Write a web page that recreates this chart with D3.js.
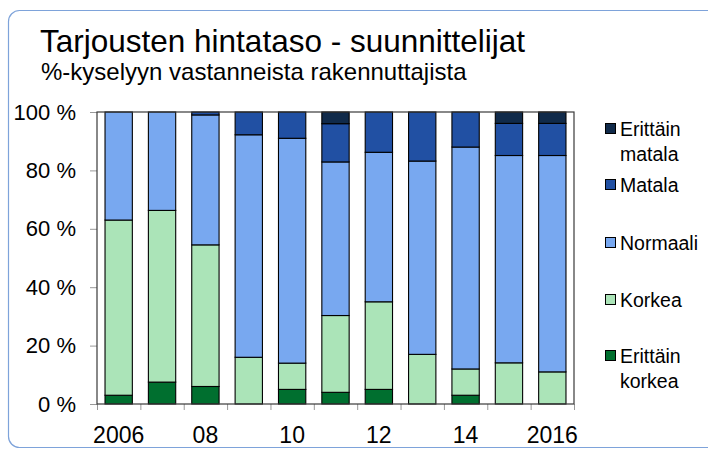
<!DOCTYPE html>
<html>
<head>
<meta charset="utf-8">
<script src="https://cdn.jsdelivr.net/npm/d3@7"></script>
<style>
  html, body { margin: 0; padding: 0; background: #fff; }
  svg { display: block; font-family: "Liberation Sans", Arial, sans-serif; }
</style>
</head>
<body>
<svg id="chart" width="708" height="449"></svg>
<script>
const years = ["2006","2007","2008","2009","2010","2011","2012","2013","2014","2015","2016"];
const tickLabels = {"2006":"2006","2008":"08","2010":"10","2012":"12","2014":"14","2016":"2016"};
const erittainKorkea = [3, 7.5, 6, 0, 5, 4, 5, 0, 3, 0, 0];
const korkea = [60, 58.8, 48.5, 16, 9, 26.3, 30, 17, 9, 14.1, 11];
const normaali = [37, 33.7, 44.5, 76.2, 77, 52.6, 51.2, 66.2, 76, 71, 74.1];
const matala = [0, 0, 1, 7.8, 9, 13.1, 13.8, 16.8, 12, 11, 11];
const erittainMatala = [0, 0, 0, 0, 0, 4, 0, 0, 0, 3.9, 3.9];
const yTicks = [0, 20, 40, 60, 80, 100];

const seriesDefs = [
  { key: "ek", name: ["Erittäin", "korkea"], values: erittainKorkea, color: "#006f2f" },
  { key: "k",  name: ["Korkea"], values: korkea, color: "#abe4b8" },
  { key: "n",  name: ["Normaali"], values: normaali, color: "#78a8f0" },
  { key: "m",  name: ["Matala"], values: matala, color: "#2150a3" },
  { key: "em", name: ["Erittäin", "matala"], values: erittainMatala, color: "#102a4a" }
];

const svg = d3.select("#chart");

// outer rounded frame
svg.append("rect")
  .attr("x", 8.5).attr("y", 10.5)
  .attr("width", 740).attr("height", 437)
  .attr("rx", 11).attr("ry", 11)
  .attr("fill", "none").attr("stroke", "#7ea3da").attr("stroke-width", 1.2);

// titles
svg.append("text").attr("x", 40).attr("y", 52)
  .attr("font-size", 31.5).attr("fill", "#000")
  .text("Tarjousten hintataso - suunnittelijat");
svg.append("text").attr("x", 41).attr("y", 80)
  .attr("font-size", 24).attr("fill", "#000")
  .text("%-kyselyyn vastanneista rakennuttajista");

const pLeft = 97, pRight = 574, pTop = 112, pBottom = 404;

const x = d3.scaleBand().domain(years).range([pLeft, pRight])
  .paddingInner(0.37).paddingOuter(0.185);
const xLin = d3.scaleLinear().domain([0, years.length]).range([pLeft, pRight]);
const y = d3.scaleLinear().domain([0, 100]).range([pBottom, pTop]);

const table = years.map((yr, i) => {
  const row = { year: yr };
  seriesDefs.forEach(s => row[s.key] = s.values[i]);
  return row;
});
const stack = d3.stack().keys(seriesDefs.map(s => s.key));
const stacked = stack(table);

// y axis
const yAxis = svg.append("g").attr("transform", `translate(${pLeft},0)`)
  .call(d3.axisLeft(y).tickValues(yTicks).tickFormat(d => d + " %").tickSize(7).tickPadding(14));
yAxis.select(".domain").remove();
yAxis.selectAll(".tick line").attr("stroke", "#999");
yAxis.selectAll(".tick text").attr("font-size", 22).attr("fill", "#000")
  .attr("font-family", "Liberation Sans, Arial, sans-serif");

// x axis tick marks (between categories)
const xTickAxis = svg.append("g").attr("transform", `translate(0,${pBottom})`)
  .call(d3.axisBottom(xLin).tickValues(d3.range(0, years.length + 1)).tickFormat("").tickSize(6));
xTickAxis.select(".domain").remove();
xTickAxis.selectAll(".tick line").attr("stroke", "#999");

// x labels
const xAxis = svg.append("g").attr("transform", `translate(0,${pBottom})`)
  .call(d3.axisBottom(x).tickSize(0).tickPadding(23).tickFormat(d => tickLabels[d] || ""));
xAxis.select(".domain").remove();
xAxis.selectAll(".tick text").attr("font-size", 23).attr("fill", "#000")
  .attr("font-family", "Liberation Sans, Arial, sans-serif");

// bars
const colorOf = {};
seriesDefs.forEach(s => colorOf[s.key] = s.color);
svg.append("g").selectAll("g")
  .data(stacked).join("g")
  .attr("fill", d => colorOf[d.key])
  .selectAll("rect")
  .data(d => d.filter(p => p[1] - p[0] > 0))
  .join("rect")
  .attr("x", d => x(d.data.year))
  .attr("width", x.bandwidth())
  .attr("y", d => y(d[1]))
  .attr("height", d => y(d[0]) - y(d[1]))
  .attr("stroke", "#000").attr("stroke-width", 1.1);

// plot frame
svg.append("rect")
  .attr("x", pLeft).attr("y", pTop)
  .attr("width", pRight - pLeft).attr("height", pBottom - pTop)
  .attr("fill", "none").attr("stroke", "#3a3a3a").attr("stroke-width", 1.2);

// legend
const legendItems = seriesDefs.slice().reverse();
const legendY = [129, 185, 243, 300, 356];
const lg = svg.append("g");
legendItems.forEach((s, i) => {
  const cy = legendY[i];
  lg.append("rect").attr("x", 605.5).attr("y", cy - 5.5).attr("width", 10).attr("height", 10)
    .attr("fill", s.color).attr("stroke", "#000").attr("stroke-width", 1);
  const t = lg.append("text").attr("x", 620).attr("y", cy + 7).attr("font-size", 19.5).attr("fill", "#000");
  s.name.forEach((line, j) => {
    t.append("tspan").attr("x", 620).attr("dy", j === 0 ? 0 : 25).text(line);
  });
});
</script>
</body>
</html>
